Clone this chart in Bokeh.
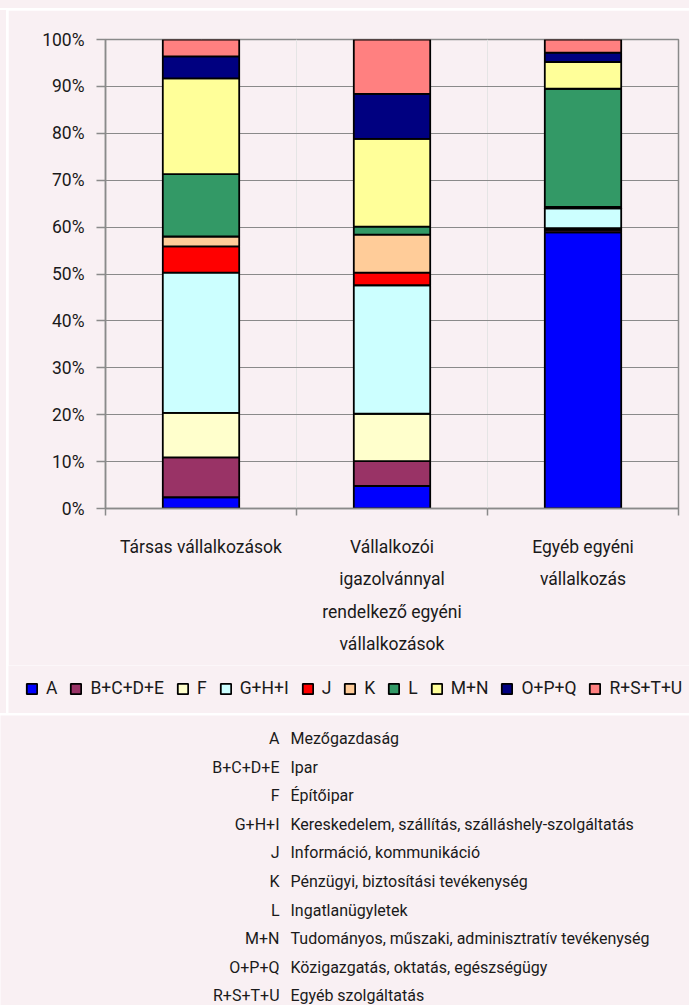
from bokeh.plotting import figure
from bokeh.models import (Range1d, LinearAxis, FixedTicker, Spacer,
                          Legend, LegendItem, PrintfTickFormatter, ColumnDataSource)
from bokeh.layouts import column, row
from bokeh.core.properties import value
from bokeh.embed import file_html
from bokeh.resources import INLINE

# ---------------- data ----------------
categories = ["Társas vállalkozások",
              "Vállalkozói\nigazolvánnyal\nrendelkező egyéni\nvállalkozások",
              "Egyéb egyéni\nvállalkozás"]
series = ["A", "B+C+D+E", "F", "G+H+I", "J", "K", "L", "M+N", "O+P+Q", "R+S+T+U"]
A_vals = [2.4, 4.8, 58.9]
BCDE_vals = [8.5, 5.3, 0.5]
F_vals = [9.5, 10.1, 0.4]
GHI_vals = [29.9, 27.4, 4.2]
J_vals = [5.6, 2.7, 0.1]
K_vals = [2.1, 8.1, 0.2]
L_vals = [13.3, 1.7, 25.2]
MN_vals = [20.4, 18.7, 5.7]
OPQ_vals = [4.7, 9.6, 2.0]
RSTU_vals = [3.6, 11.6, 2.8]
descriptions = ["Mezőgazdaság", "Ipar", "Építőipar",
                "Kereskedelem, szállítás, szálláshely-szolgáltatás",
                "Információ, kommunikáció", "Pénzügyi, biztosítási tevékenység",
                "Ingatlanügyletek", "Tudományos, műszaki, adminisztratív tevékenység",
                "Közigazgatás, oktatás, egészségügy", "Egyéb szolgáltatás"]
y_ticks = [0, 10, 20, 30, 40, 50, 60, 70, 80, 90, 100]

colors = ["#0000FF", "#993366", "#FFFFCC", "#CCFFFF", "#FF0000",
          "#FFCC99", "#339966", "#FFFF99", "#000080", "#FF8080"]

BG = "#f9f0f3"
GRID = "#8a8a8a"
FONT = "Roboto"
TXT = "#1a1a1a"

n_cat = len(categories)
centers = [i + 0.5 for i in range(n_cat)]
bounds = [float(i) for i in range(n_cat + 1)]

data = {"x": centers}
for name, vals in zip(series, [A_vals, BCDE_vals, F_vals, GHI_vals, J_vals, K_vals,
                               L_vals, MN_vals, OPQ_vals, RSTU_vals]):
    data[name] = vals
source = ColumnDataSource(data)

# ---------------- chart ----------------
H1 = 655
p = figure(x_range=Range1d(0, n_cat), y_range=Range1d(0, 100),
           width=681, height=H1, output_backend="svg", toolbar_location=None,
           x_axis_location=None, min_border_left=97, min_border_right=11,
           min_border_top=29, min_border_bottom=H1 - 29 - 469)
p.background_fill_color = BG
p.border_fill_color = BG
p.outline_line_color = GRID
p.outline_line_width = 1.5

p.vbar_stack(series, x="x", width=0.4, color=colors, source=source,
             line_color="black", line_width=1.8)

# y axis
p.yaxis.ticker = FixedTicker(ticks=y_ticks)
p.yaxis.formatter = PrintfTickFormatter(format="%d%%")
p.yaxis.axis_line_color = GRID
p.yaxis.axis_line_width = 1.5
p.yaxis.major_tick_line_color = GRID
p.yaxis.major_tick_line_width = 1.5
p.yaxis.major_tick_in = 0
p.yaxis.major_tick_out = 9
p.yaxis.minor_tick_line_color = None
p.yaxis.major_label_standoff = 12
p.yaxis.major_label_text_font = FONT
p.yaxis.major_label_text_font_size = "17.5px"
p.yaxis.major_label_text_color = TXT
p.ygrid.grid_line_color = GRID
p.ygrid.grid_line_width = 1.2

# category separator ticks
sep_axis = LinearAxis(ticker=FixedTicker(ticks=bounds),
                      major_label_overrides={b: "" for b in bounds},
                      axis_line_color=GRID, axis_line_width=1.5,
                      major_tick_line_color=GRID, major_tick_line_width=1.5,
                      major_tick_in=0, major_tick_out=7,
                      minor_tick_line_color=None, major_label_standoff=0)
p.add_layout(sep_axis, "below")

cat_axis = LinearAxis(ticker=FixedTicker(ticks=centers),
                      major_label_overrides={c: lab for c, lab in zip(centers, categories)},
                      axis_line_color=None, major_tick_line_color=None,
                      minor_tick_line_color=None,
                      major_label_standoff=15,
                      major_label_text_font=FONT,
                      major_label_text_font_size="17.5px",
                      major_label_text_color=TXT,
                      major_label_text_line_height=1.63)
p.add_layout(cat_axis, "below")

# ---------------- legend strip ----------------
H_LEG = 48
lg = figure(width=681, height=H_LEG, x_range=Range1d(0, 1), y_range=Range1d(0, 1),
            output_backend="svg", toolbar_location=None,
            x_axis_location=None, y_axis_location=None,
            min_border=0, min_border_left=0, min_border_right=0,
            min_border_top=0, min_border_bottom=0)
lg.grid.visible = False
lg.outline_line_color = None
lg.background_fill_color = BG
lg.border_fill_color = BG
leg_renderers = lg.vbar_stack(series, x="x", width=0.4, color=colors, source=source,
                              line_color="black", line_width=1.8)
for r in leg_renderers:
    r.visible = False
legend = Legend(items=[LegendItem(label=s, renderers=[r]) for s, r in zip(series, leg_renderers)],
                orientation="horizontal", location=(17, 15),
                glyph_width=13, glyph_height=13, label_standoff=8, spacing=12,
                padding=0, margin=0, border_line_color=None, background_fill_alpha=0,
                label_text_font=FONT, label_text_font_size="17.5px",
                label_text_color=TXT, label_height=20, label_width=0)
lg.add_layout(legend)

# ---------------- code table ----------------
H2 = 290
t = figure(width=689, height=H2, x_range=Range1d(0, 689), y_range=Range1d(H2, 0),
           output_backend="svg", toolbar_location=None,
           x_axis_location=None, y_axis_location=None,
           min_border=0, min_border_left=0, min_border_right=0,
           min_border_top=0, min_border_bottom=0)
t.grid.visible = False
t.outline_line_color = None
t.background_fill_color = BG
t.border_fill_color = BG

row_y = [23 + 28.6 * i for i in range(len(series))]
t.text(x=[279] * len(series), y=row_y, text=series, text_align="right",
       text_baseline="middle", text_font=value(FONT), text_font_size="16px",
       text_color=TXT)
t.text(x=[290] * len(series), y=row_y, text=descriptions, text_align="left",
       text_baseline="middle", text_font=value(FONT), text_font_size="16px",
       text_color=TXT)

top_strip = Spacer(width=689, height=8, styles={"background-color": BG})
left_strip_a = Spacer(width=6, height=H1, styles={"background-color": BG})
left_strip_b = Spacer(width=6, height=H_LEG, styles={"background-color": BG})
box = column(row(left_strip_a, p, spacing=2),
             row(left_strip_b, lg, spacing=2), spacing=0)
layout = column(top_strip, box, t, spacing=2)
open("out.html", "w").write(file_html(layout, INLINE))
